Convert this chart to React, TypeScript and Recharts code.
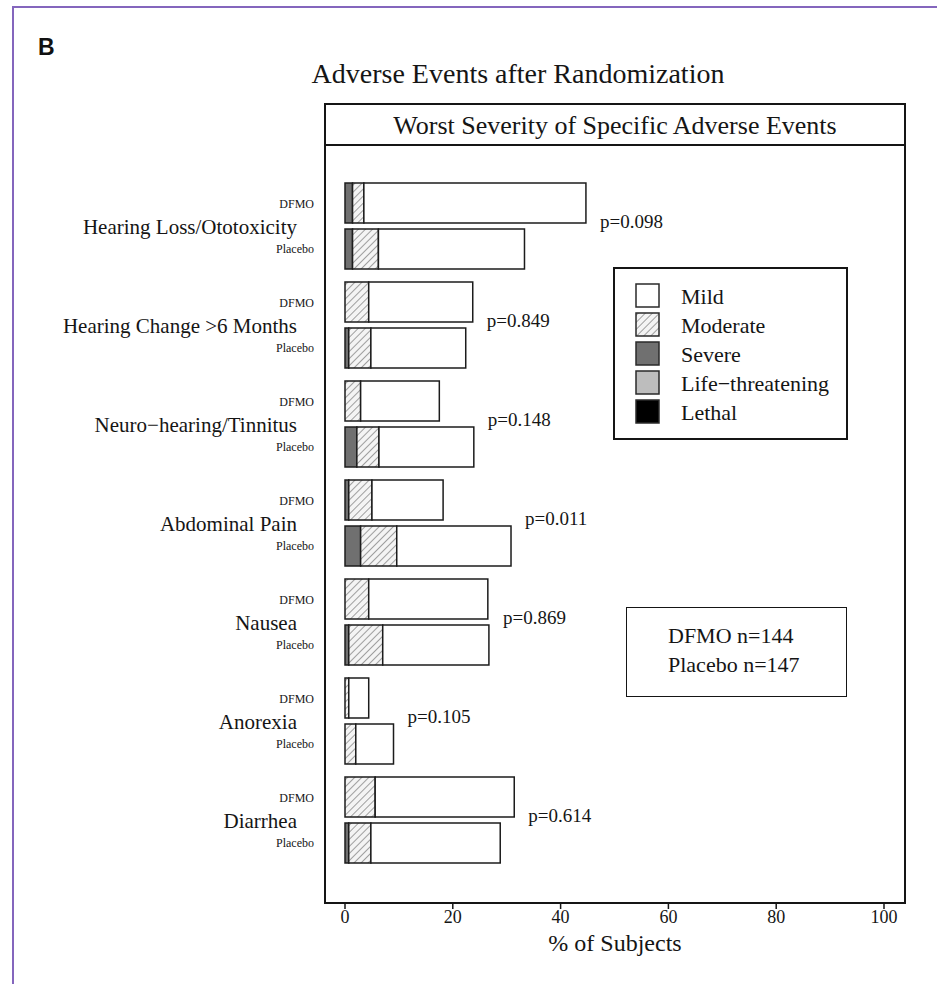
import React from "react";
import { BarChart, Bar, XAxis, YAxis, ReferenceDot, Label } from "recharts";

const SERIF = '"Liberation Serif", "Times New Roman", Times, serif';
const SANS = '"Liberation Sans", Arial, sans-serif';
const INK = "#151515";

// ---- data ----
const events = [
  "Hearing Loss/Ototoxicity",
  "Hearing Change >6 Months",
  "Neuro\u2212hearing/Tinnitus",
  "Abdominal Pain",
  "Nausea",
  "Anorexia",
  "Diarrhea",
];
const pValues = ["p=0.098", "p=0.849", "p=0.148", "p=0.011", "p=0.869", "p=0.105", "p=0.614"];

// % of subjects, DFMO arm
const dfmoLethal = [0, 0, 0, 0, 0, 0, 0];
const dfmoLifeThreatening = [0, 0, 0, 0, 0, 0, 0];
const dfmoSevere = [1.4, 0, 0, 0.7, 0, 0, 0];
const dfmoModerate = [2.1, 4.4, 2.9, 4.3, 4.4, 0.7, 5.6];
const dfmoMild = [41.2, 19.3, 14.6, 13.2, 22.1, 3.7, 25.8];

// % of subjects, Placebo arm
const placeboLethal = [0, 0, 0, 0, 0, 0, 0];
const placeboLifeThreatening = [0, 0, 0, 0, 0, 0, 0];
const placeboSevere = [1.4, 0.7, 2.2, 2.9, 0.7, 0, 0.7];
const placeboModerate = [4.8, 4.1, 4.1, 6.7, 6.3, 2.0, 4.1];
const placeboMild = [27.1, 17.6, 17.6, 21.2, 19.7, 7.0, 24.0];

const xTicks = [0, 20, 40, 60, 80, 100];
const severityLabels = ["Mild", "Moderate", "Severe", "Life\u2212threatening", "Lethal"];
const armLabels = ["DFMO", "Placebo"];
const armSizes = [144, 147];

const mainTitle = "Adverse Events after Randomization";
const stripTitle = "Worst Severity of Specific Adverse Events";
const xLabel = "% of Subjects";
const panelLetter = "B";

// ---- styling ----
const severityFills = ["#ffffff", "url(#hatch)", "#707070", "#bdbdbd", "#000000"];

const data = events.map((event, i) => {
  const dTotal = dfmoLethal[i] + dfmoLifeThreatening[i] + dfmoSevere[i] + dfmoModerate[i] + dfmoMild[i];
  const pTotal =
    placeboLethal[i] + placeboLifeThreatening[i] + placeboSevere[i] + placeboModerate[i] + placeboMild[i];
  return {
    event,
    dLethal: dfmoLethal[i],
    dLife: dfmoLifeThreatening[i],
    dSevere: dfmoSevere[i],
    dModerate: dfmoModerate[i],
    dMild: dfmoMild[i],
    pLethal: placeboLethal[i],
    pLife: placeboLifeThreatening[i],
    pSevere: placeboSevere[i],
    pModerate: placeboModerate[i],
    pMild: placeboMild[i],
    p: pValues[i],
    pAt: Math.max(dTotal, pTotal) + 2.6,
  };
});

const EventTick = (props: any) => {
  const { x, y, payload } = props;
  return (
    <g>
      <text x={x - 10} y={y - 22} textAnchor="end" dominantBaseline="central" fontSize={12} fontFamily={SERIF} fill={INK}>
        {armLabels[0]}
      </text>
      <text x={x - 27} y={y + 1} textAnchor="end" dominantBaseline="central" fontSize={21} fontFamily={SERIF} fill={INK}>
        {payload.value}
      </text>
      <text x={x - 10} y={y + 23} textAnchor="end" dominantBaseline="central" fontSize={12} fontFamily={SERIF} fill={INK}>
        {armLabels[1]}
      </text>
    </g>
  );
};

const PShape = (text: string) => (props: any) => (
  <text x={props.cx} y={props.cy - 4} dominantBaseline="central" fontSize={19} fontFamily={SERIF} fill={INK}>
    {text}
  </text>
);

const barStroke = { stroke: "#1c1c1c", strokeWidth: 1.5 };

export default function App() {
  return (
    <div style={{ position: "absolute", left: 0, top: 0, width: 937, height: 984, background: "#fff", overflow: "hidden" }}>
      {/* purple frame */}
      <div
        style={{
          position: "absolute",
          left: 12,
          top: 6,
          width: 940,
          height: 1000,
          borderTop: "2px solid #8466bd",
          borderLeft: "2px solid #8466bd",
        }}
      />
      <div
        style={{
          position: "absolute",
          left: 38,
          top: 34,
          fontFamily: SANS,
          fontWeight: 700,
          fontSize: 23,
          lineHeight: "26px",
          color: "#111",
        }}
      >
        {panelLetter}
      </div>
      <div
        style={{
          position: "absolute",
          left: 218,
          width: 600,
          top: 57,
          textAlign: "center",
          fontFamily: SERIF,
          fontSize: 28,
          lineHeight: "34px",
          color: INK,
        }}
      >
        {mainTitle}
      </div>

      <div style={{ position: "absolute", left: 0, top: 0 }}>
        <BarChart
          width={937}
          height={984}
          layout="vertical"
          data={data}
          margin={{ top: 145, right: 31, bottom: 21, left: 24 }}
          barGap={6}
        >
          <defs>
            <pattern id="hatch" patternUnits="userSpaceOnUse" width="5" height="5" patternTransform="rotate(45)">
              <rect width="5" height="5" fill="#f4f4f4" />
              <line x1="0" y1="0" x2="0" y2="5" stroke="#8a8a8a" strokeWidth="1.6" />
            </pattern>
          </defs>
          <XAxis
            type="number"
            domain={[0, 100]}
            ticks={xTicks}
            interval={0}
            padding={{ left: 21, right: 22 }}
            height={60}
            tickSize={6}
            tickMargin={1}
            axisLine={{ stroke: INK, strokeWidth: 2 }}
            tickLine={{ stroke: INK, strokeWidth: 1.5 }}
            tick={{ fontSize: 18, fill: INK, fontFamily: SERIF }}
          >
            <Label
              value={xLabel}
              position="insideBottom"
              offset={12}
              style={{ fontSize: 24, fill: INK, fontFamily: SERIF }}
            />
          </XAxis>
          <YAxis
            type="category"
            dataKey="event"
            width={300}
            axisLine={false}
            tickLine={false}
            tickSize={0}
            tickMargin={0}
            interval={0}
            padding={{ top: 31, bottom: 34 }}
            tick={<EventTick />}
          />
          <Bar dataKey="dLethal" stackId="dfmo" barSize={40} fill={severityFills[4]} {...barStroke} isAnimationActive={false} />
          <Bar dataKey="dLife" stackId="dfmo" barSize={40} fill={severityFills[3]} {...barStroke} isAnimationActive={false} />
          <Bar dataKey="dSevere" stackId="dfmo" barSize={40} fill={severityFills[2]} {...barStroke} isAnimationActive={false} />
          <Bar dataKey="dModerate" stackId="dfmo" barSize={40} fill={severityFills[1]} {...barStroke} isAnimationActive={false} />
          <Bar dataKey="dMild" stackId="dfmo" barSize={40} fill={severityFills[0]} {...barStroke} isAnimationActive={false} />
          <Bar dataKey="pLethal" stackId="placebo" barSize={40} fill={severityFills[4]} {...barStroke} isAnimationActive={false} />
          <Bar dataKey="pLife" stackId="placebo" barSize={40} fill={severityFills[3]} {...barStroke} isAnimationActive={false} />
          <Bar dataKey="pSevere" stackId="placebo" barSize={40} fill={severityFills[2]} {...barStroke} isAnimationActive={false} />
          <Bar dataKey="pModerate" stackId="placebo" barSize={40} fill={severityFills[1]} {...barStroke} isAnimationActive={false} />
          <Bar dataKey="pMild" stackId="placebo" barSize={40} fill={severityFills[0]} {...barStroke} isAnimationActive={false} />
          {data.map((d) => (
            <ReferenceDot
              key={d.event}
              x={d.pAt}
              y={d.event}
              r={1}
              ifOverflow="visible"
              shape={PShape(d.p)}
            />
          ))}
        </BarChart>
      </div>

      {/* panel frame with strip */}
      <div
        style={{
          position: "absolute",
          left: 324,
          top: 103,
          width: 582,
          height: 801,
          border: `2px solid ${INK}`,
          boxSizing: "border-box",
          pointerEvents: "none",
        }}
      />
      <div
        style={{
          position: "absolute",
          left: 324,
          top: 103,
          width: 582,
          height: 43,
          borderBottom: `2px solid ${INK}`,
          boxSizing: "border-box",
          textAlign: "center",
          fontFamily: SERIF,
          fontSize: 26,
          lineHeight: "46px",
          color: INK,
        }}
      >
        {stripTitle}
      </div>

      {/* legend */}
      <div
        style={{
          position: "absolute",
          left: 613,
          top: 267,
          width: 235,
          height: 173,
          border: `2px solid ${INK}`,
          boxSizing: "border-box",
          background: "#fff",
        }}
      >
        <svg width={235} height={173} style={{ position: "absolute", left: -2, top: -2 }}>
          <defs>
            <pattern id="hatchL" patternUnits="userSpaceOnUse" width="5" height="5" patternTransform="rotate(45)">
              <rect width="5" height="5" fill="#f4f4f4" />
              <line x1="0" y1="0" x2="0" y2="5" stroke="#8a8a8a" strokeWidth="1.6" />
            </pattern>
          </defs>
          {severityLabels.map((s, i) => (
            <g key={s}>
              <rect
                x={23}
                y={17 + i * 29}
                width={23}
                height={23}
                fill={severityFills[i] === "url(#hatch)" ? "url(#hatchL)" : severityFills[i]}
                stroke="#2a2a2a"
                strokeWidth={1.5}
              />
              <text x={68} y={29 + i * 29} dominantBaseline="central" fontSize={22} fontFamily={SERIF} fill={INK}>
                {s}
              </text>
            </g>
          ))}
        </svg>
      </div>

      {/* sample size box */}
      <div
        style={{
          position: "absolute",
          left: 626,
          top: 607,
          width: 221,
          height: 90,
          border: `1.5px solid ${INK}`,
          boxSizing: "border-box",
          background: "#fff",
          fontFamily: SERIF,
          fontSize: 22,
          lineHeight: "29px",
          color: INK,
          paddingLeft: 41,
          paddingTop: 13,
        }}
      >
        {armLabels.map((a, i) => (
          <div key={a}>{`${a} n=${armSizes[i]}`}</div>
        ))}
      </div>
    </div>
  );
}
